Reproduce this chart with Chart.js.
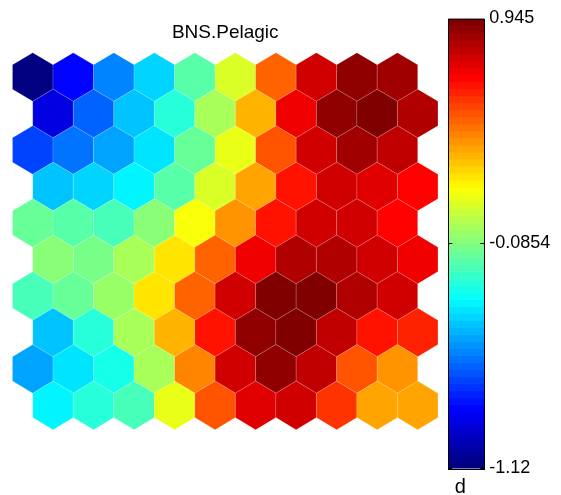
<!DOCTYPE html>
<html>
<head>
<meta charset="utf-8">
<script src="https://cdn.jsdelivr.net/npm/chart.js@4.4.0/dist/chart.umd.min.js"></script>
<style>
  html, body { margin: 0; padding: 0; background: #fff; }
  #wrap { width: 561px; height: 495px; }
</style>
</head>
<body>
<div id="wrap"><canvas id="myChart" width="561" height="495"></canvas></div>
<script>
const chartTitle = 'BNS.Pelagic'
const barLabel = 'd'
const cbMin = -1.12
const cbMax = 0.945
const cbTicks = [-1.12, -0.0854, 0.945]

// component plane values, one array per map row (top -> bottom)
const row1  = [-1.11, -0.86, -0.59, -0.42, -0.17, 0.10, 0.48, 0.77, 0.90, 0.87]
const row2  = [-0.93, -0.66, -0.48, -0.28, -0.02, 0.33, 0.72, 0.90, 0.945, 0.85]
const row3  = [-0.73, -0.62, -0.52, -0.39, -0.14, 0.14, 0.52, 0.78, 0.88, 0.82]
const row4  = [-0.45, -0.44, -0.38, -0.17, 0.08, 0.36, 0.65, 0.78, 0.76, 0.69]
const row5  = [-0.14, -0.16, -0.21, -0.07, 0.17, 0.40, 0.65, 0.78, 0.79, 0.69]
const row6  = [-0.07, -0.12, 0.01, 0.23, 0.48, 0.72, 0.85, 0.85, 0.78, 0.72]
const row7  = [-0.21, -0.15, -0.04, 0.23, 0.48, 0.77, 0.945, 0.94, 0.85, 0.78]
const row8  = [-0.45, -0.28, -0.02, 0.33, 0.65, 0.91, 0.94, 0.82, 0.65, 0.62]
const row9  = [-0.54, -0.41, -0.31, -0.02, 0.43, 0.77, 0.91, 0.81, 0.53, 0.40]
const row10 = [-0.35, -0.28, -0.21, 0.14, 0.52, 0.76, 0.78, 0.58, 0.36, 0.36]
const gridRows = [row1, row2, row3, row4, row5, row6, row7, row8, row9, row10]

const rowStep = Math.sqrt(3) / 2
const hexR = 1 / Math.sqrt(3)

// matlab-like jet, 64 levels
const jet = (v) => {
  let t = (v - cbMin) / (cbMax - cbMin)
  t = Math.min(1, Math.max(0, t))
  t = Math.round(t * 63) / 63
  const c = (a) => Math.round(255 * Math.min(1, Math.max(0, a)))
  return `rgb(${c(1.5 - Math.abs(4 * t - 3))},${c(1.5 - Math.abs(4 * t - 2))},${c(1.5 - Math.abs(4 * t - 1))})`
}

const hexPoints = []
gridRows.forEach((row, r) => {
  row.forEach((v, c) => {
    hexPoints.push({ x: c + (r % 2 ? 0.5 : 0), y: r * rowStep, v })
  })
})

const hexPlugin = {
  id: 'hexPlugin',
  beforeDatasetsDraw(chart) {
    const { ctx, chartArea, scales: { x, y, cb } } = chart
    ctx.save()
    chart.data.datasets[0].data.forEach(p => {
      const verts = [
        [p.x, p.y - hexR], [p.x + 0.5, p.y - hexR / 2], [p.x + 0.5, p.y + hexR / 2],
        [p.x, p.y + hexR], [p.x - 0.5, p.y + hexR / 2], [p.x - 0.5, p.y - hexR / 2]
      ]
      ctx.beginPath()
      verts.forEach(([a, b], i) => {
        const px = x.getPixelForValue(a), py = y.getPixelForValue(b)
        i ? ctx.lineTo(px, py) : ctx.moveTo(px, py)
      })
      ctx.closePath()
      ctx.fillStyle = jet(p.v)
      ctx.fill()
      ctx.strokeStyle = 'rgba(255,255,255,0.22)'
      ctx.lineWidth = 0.7
      ctx.stroke()
    })

    // colorbar
    const left = chartArea.right - 36
    const right = chartArea.right
    const n = 64
    for (let i = 0; i < n; i++) {
      const lo = cbMin + (cbMax - cbMin) * i / n
      const hi = cbMin + (cbMax - cbMin) * (i + 1) / n
      const y0 = cb.getPixelForValue(hi), y1 = cb.getPixelForValue(lo)
      ctx.fillStyle = jet((lo + hi) / 2)
      ctx.fillRect(left, y0, right - left, y1 - y0 + 0.5)
    }
    ctx.strokeStyle = '#000'
    ctx.lineWidth = 1
    const top = cb.getPixelForValue(cbMax), bot = cb.getPixelForValue(cbMin)
    ctx.strokeRect(Math.round(left) + 0.5, Math.round(top) + 0.5, Math.round(right - left), Math.round(bot - top))
    cbTicks.forEach(v => {
      const py = Math.round(cb.getPixelForValue(v)) + 0.5
      ctx.beginPath()
      ctx.moveTo(left, py); ctx.lineTo(left + 4, py)
      ctx.moveTo(right, py); ctx.lineTo(right - 4, py)
      ctx.stroke()
    })

    // title and bar label
    ctx.fillStyle = '#000'
    ctx.textAlign = 'center'
    ctx.textBaseline = 'alphabetic'
    ctx.font = '19px "Liberation Sans", Arial, sans-serif'
    ctx.fillText(chartTitle, (x.getPixelForValue(-0.5) + x.getPixelForValue(10)) / 2, 38)
    ctx.font = '20px "Liberation Sans", Arial, sans-serif'
    ctx.fillText(barLabel, left + 12, 493)
    ctx.restore()
  }
}

const ctx = document.getElementById('myChart').getContext('2d')
const myChart = new Chart(ctx, {
  type: 'scatter',
  data: {
    datasets: [{
      label: chartTitle,
      data: hexPoints,
      pointRadius: 0,
      pointHoverRadius: 0,
    }]
  },
  options: {
    responsive: false,
    animation: false,
    layout: { padding: { left: 12.5, top: 18.5, right: 0, bottom: 27 } },
    plugins: {
      legend: { display: false },
      tooltip: { enabled: false },
      title: { display: false },
    },
    scales: {
      x: { type: 'linear', display: false, min: -0.5, max: 11.144 },
      y: { type: 'linear', display: false, reverse: true, min: -1.3886, max: 9.28 },
      cb: {
        type: 'linear',
        position: 'right',
        min: cbMin,
        max: cbMax,
        grid: { display: false, drawTicks: false },
        border: { display: false },
        afterBuildTicks: s => { s.ticks = cbTicks.map(v => ({ value: v })) },
        afterFit: s => { s.width = 76.7 },
        ticks: {
          autoSkip: false,
          padding: 5,
          color: '#000',
          font: { family: '"Liberation Sans", Arial, sans-serif', size: 18 },
          callback: v => String(v),
        }
      }
    }
  },
  plugins: [hexPlugin]
})
</script>
</body>
</html>
